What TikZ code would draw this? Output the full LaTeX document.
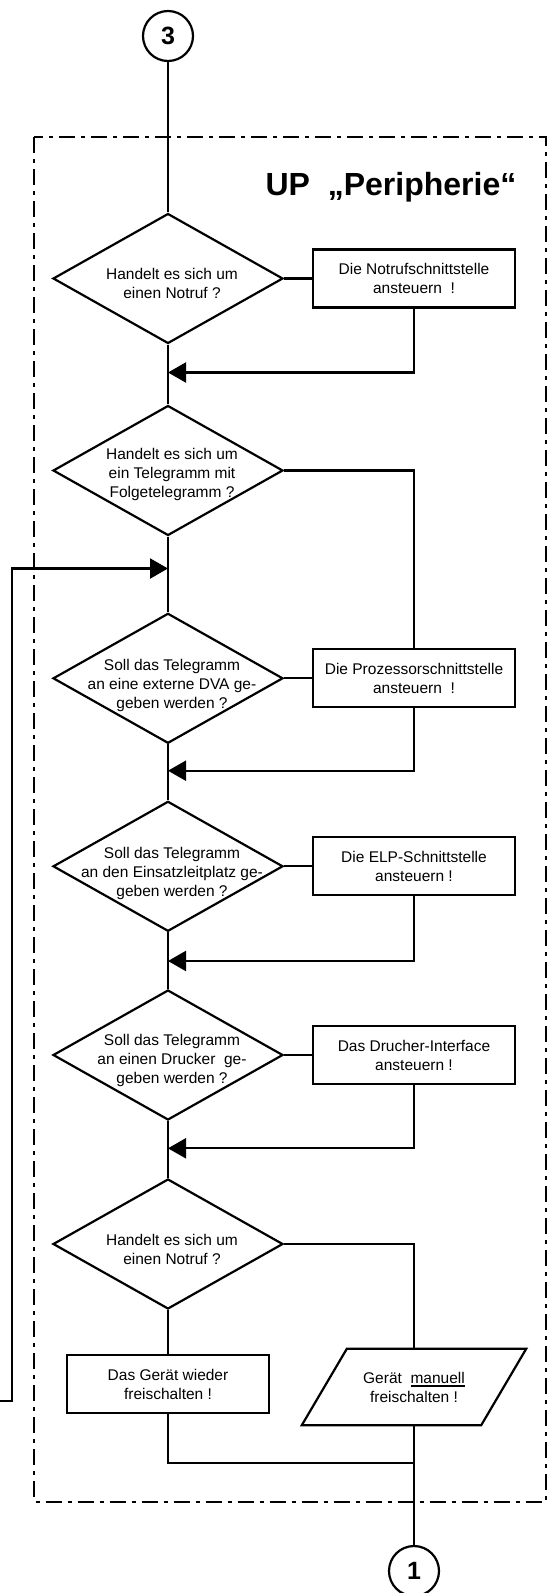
\documentclass[tikz,border=0pt]{standalone}
\usepackage{fontspec}
\setmainfont{Liberation Sans}
\usetikzlibrary{shapes.geometric,arrows.meta}
\newsavebox\myulbox
\newcommand\myul[1]{\sbox\myulbox{#1}\rlap{\rule[-3.5pt]{\wd\myulbox}{1.9pt}}\usebox\myulbox}
\begin{document}
\begin{tikzpicture}[x=1pt,y=-1pt,
  lw/.style={line width=2.2pt},
  every node/.style={font=\fontsize{15.5}{19}\selectfont},
  decision/.style={draw,lw,shape=diamond,minimum width=230pt,minimum height=130pt,inner sep=0pt},
  dtext/.style={align=center,inner sep=0pt},
  box/.style={draw,lw,rectangle,minimum width=202pt,minimum height=58pt,align=center,inner sep=0pt},
  conn/.style={draw,lw,circle,minimum size=50pt,inner sep=0pt,font=\fontsize{25}{30}\selectfont\bfseries},
  line/.style={lw},
  arrow/.style={lw,-{Triangle[length=18pt,width=20pt]}},
  frame/.style={line width=2pt,dash pattern=on 16pt off 6pt on 4pt off 6pt}
]
\useasboundingbox (0,0) rectangle (555,1593);
\draw[frame] (34,137) rectangle (546,1501.5);
\node[font=\fontsize{32}{38}\selectfont\bfseries] (title) at (391,187) {UP\ \ „Peripherie“};

\node[conn] (c3) at (168,36) {3};
\node[decision] (d1) at (168,278.5) {};
\node[dtext] (t1) at (172,283) {Handelt es sich um\\einen Notruf ?};
\node[box] (r1) at (414,278.5) {Die Notrufschnittstelle\\ansteuern\ \ !};
\coordinate (m1) at (168,372.5);
\node[decision] (d2) at (168,470.5) {};
\node[dtext] (t2) at (172,474) {Handelt es sich um\\ein Telegramm mit\\Folgetelegramm ?};
\coordinate (m0) at (168,568.5);
\coordinate (lin) at (0,1401);
\coordinate (lc) at (12,568.5);
\node[decision] (d3) at (168,678.3) {};
\node[dtext] (t3) at (172,685) {Soll das Telegramm\\an eine externe DVA ge-\\geben werden ?};
\node[box] (r2) at (414,678.3) {Die Prozessorschnittstelle\\ansteuern\ \ !};
\coordinate (m2) at (168,770.7);
\node[decision] (d4) at (168,866.3) {};
\node[dtext] (t4) at (172,873) {Soll das Telegramm\\an den Einsatzleitplatz ge-\\geben werden ?};
\node[box] (r3) at (414,866.3) {Die ELP-Schnittstelle\\ansteuern !};
\coordinate (m3) at (168,961);
\node[decision] (d5) at (168,1055) {};
\node[dtext] (t5) at (172,1060) {Soll das Telegramm\\an einen Drucker\ \ ge-\\geben werden ?};
\node[box] (r4) at (414,1055) {Das Drucher-Interface\\ansteuern !};
\coordinate (m4) at (168,1148.3);
\node[decision] (d6) at (168,1244) {};
\node[dtext] (t6) at (172,1249) {Handelt es sich um\\einen Notruf ?};
\node[box] (r5) at (168,1384) {Das Gerät wieder\\freischalten !};
\node[minimum width=179pt,minimum height=76pt,align=center,inner sep=0pt] (par) at (414,1387) {Gerät\ \ \myul{manuell}\\freischalten !};
\draw[lw] ([xshift=22.5pt]par.north west) -- ([xshift=22.5pt]par.north east) -- ([xshift=-22.5pt]par.south east) -- ([xshift=-22.5pt]par.south west) -- cycle;
\coordinate (m5) at (414,1463);
\node[conn] (c1) at (414,1571) {1};

\draw[line] (c3.south) -- (d1.north);
\draw[line] (d1.east) -- (r1.west);
\draw[arrow] (r1.south) |- (m1);
\draw[line] (d1.south) -- (d2.north);
\draw[line] (d2.east) -| (r2.north);
\draw[arrow] (lin) -| (lc) -- (m0);
\draw[line] (d2.south) -- (d3.north);
\draw[line] (d3.east) -- (r2.west);
\draw[arrow] (r2.south) |- (m2);
\draw[line] (d3.south) -- (d4.north);
\draw[line] (d4.east) -- (r3.west);
\draw[arrow] (r3.south) |- (m3);
\draw[line] (d4.south) -- (d5.north);
\draw[line] (d5.east) -- (r4.west);
\draw[arrow] (r4.south) |- (m4);
\draw[line] (d5.south) -- (d6.north);
\draw[line] (d6.east) -| (par.north);
\draw[line] (d6.south) -- (r5.north);
\draw[line] (r5.south) |- (m5);
\draw[line] (par.south) -- (c1.north);
\end{tikzpicture}
\end{document}
